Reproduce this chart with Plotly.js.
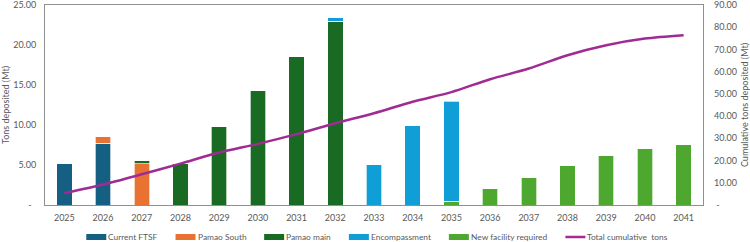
<!DOCTYPE html>
<html>
<head>
<meta charset="utf-8">
<script src="https://cdn.plot.ly/plotly-3.0.1.min.js"></script>
<style>
  html, body { margin: 0; padding: 0; background: #fff; }
  #chart { width: 750px; height: 242px; }
</style>
</head>
<body>
<div id="chart"></div>
<script>
// Deposition schedule by facility (Mt per year) and running total (Mt)
const years = ['2025','2026','2027','2028','2029','2030','2031','2032','2033',
               '2034','2035','2036','2037','2038','2039','2040','2041'];
const currentFTSF   = [5.25, 7.75, 0, 0, 0, 0, 0, 0, 0, 0, 0, 0, 0, 0, 0, 0, 0];
const pamaoSouth    = [0, 0.80, 5.15, 0, 0, 0, 0, 0, 0, 0, 0, 0, 0, 0, 0, 0, 0];
const pamaoMain     = [0, 0, 0.45, 5.15, 9.85, 14.30, 18.60, 23.00, 0, 0, 0, 0, 0, 0, 0, 0, 0];
const encompassment = [0, 0, 0, 0, 0, 0, 0, 0.42, 5.05, 9.90, 12.55, 0, 0, 0, 0, 0, 0];
const newFacility   = [0, 0, 0, 0, 0, 0, 0, 0, 0, 0, 0.45, 2.05, 3.45, 4.95, 6.20, 7.05, 7.55];
const cumulativeTons = [5.3, 9.2, 13.8, 18.6, 23.6, 27.5, 31.9, 36.8, 41.3, 46.5,
                        50.8, 56.6, 61.4, 67.4, 71.9, 74.9, 76.4];

const leftTickVals  = [0, 5, 10, 15, 20, 25];
const leftTickText  = ['-\u00a0\u00a0', '5.00', '10.00', '15.00', '20.00', '25.00'];
const rightTickVals = [0, 10, 20, 30, 40, 50, 60, 70, 80, 90];
const rightTickText = ['\u00a0-', '10.00', '20.00', '30.00', '40.00', '50.00',
                       '60.00', '70.00', '80.00', '90.00'];

const FONT_NAME = 'Lato';
const FONT = 'Lato, "Open Sans", sans-serif';
const FONT_SIZE = 9;
const LEGEND_FONT_SIZE = 8.4;
const GREY = '#595959';
const FRAME = '#8f8f8f';
const edge = { color: 'rgba(255,255,255,0.85)', width: 0.8 };

const W = 750, H = 242;
const M = { l: 45, r: 47, t: 5, b: 37 };
const plotW = W - M.l - M.r, plotH = H - M.t - M.b;

// Legend entries, in display order
const legendEntries = [
  { name: 'Current FTSF', color: '#156082', kind: 'box' },
  { name: 'Pamao South', color: '#E97132', kind: 'box' },
  { name: 'Pamao main', color: '#196B24', kind: 'box' },
  { name: 'Encompassment', color: '#0F9ED5', kind: 'box' },
  { name: 'New facility required', color: '#4EA72E', kind: 'box' },
  { name: 'Total cumulative  tons', color: '#A02B93', kind: 'line' }
];
const colorOf = {};
legendEntries.forEach(e => { colorOf[e.name] = e.color; });

function barTrace(name, values) {
  return {
    type: 'bar', name: name, x: years, y: values,
    marker: { color: colorOf[name], line: edge },
    showlegend: false, hoverinfo: 'x+y+name'
  };
}

// New facility is stacked beneath Encompassment (visible in 2035)
const traces = [
  barTrace('Current FTSF', currentFTSF),
  barTrace('Pamao South', pamaoSouth),
  barTrace('Pamao main', pamaoMain),
  barTrace('New facility required', newFacility),
  barTrace('Encompassment', encompassment),
  {
    type: 'scatter', mode: 'lines', name: 'Total cumulative  tons',
    x: years, y: cumulativeTons, yaxis: 'y2', showlegend: false,
    line: { color: colorOf['Total cumulative  tons'], width: 2.5, shape: 'spline', smoothing: 0.8 }
  }
];

// Pixel helpers for the legend row beneath the axis (paper coordinates)
const px2paperX = px => (px - M.l) / plotW;
const px2paperY = py => (H - M.b - py) / plotH;

function buildLegend(measure) {
  const swW = 20, swH = 6, txtGap = 2, itemGap = 18, cx = 377, cy = 237;
  const widths = legendEntries.map(e => measure(e.name));
  const total = widths.reduce((s, w) => s + swW + txtGap + w, 0) + itemGap * (legendEntries.length - 1);
  let x = cx - total / 2;
  const shapes = [], annotations = [];
  legendEntries.forEach((e, i) => {
    if (e.kind === 'box') {
      shapes.push({
        type: 'rect', xref: 'paper', yref: 'paper', layer: 'above',
        x0: px2paperX(x), x1: px2paperX(x + swW),
        y0: px2paperY(cy + swH / 2), y1: px2paperY(cy - swH / 2),
        fillcolor: e.color, line: { width: 0 }
      });
    } else {
      shapes.push({
        type: 'line', xref: 'paper', yref: 'paper', layer: 'above',
        x0: px2paperX(x), x1: px2paperX(x + swW),
        y0: px2paperY(cy), y1: px2paperY(cy),
        line: { color: e.color, width: 2.5 }
      });
    }
    annotations.push({
      xref: 'paper', yref: 'paper', showarrow: false,
      x: px2paperX(x + swW + txtGap - 1), y: px2paperY(cy),
      xanchor: 'left', yanchor: 'middle', borderpad: 0,
      text: e.name, font: { family: FONT, size: LEGEND_FONT_SIZE, color: GREY }
    });
    x += swW + txtGap + widths[i] + itemGap;
  });
  return { shapes, annotations };
}

function draw() {
  const ctx = document.createElement('canvas').getContext('2d');
  ctx.font = LEGEND_FONT_SIZE + 'px ' + FONT;
  const legend = buildLegend(t => ctx.measureText(t).width);

  const tickFont = { family: FONT, size: FONT_SIZE, color: GREY };
  const layout = {
    width: W, height: H,
    margin: { l: M.l, r: M.r, t: M.t, b: M.b, pad: 0 },
    paper_bgcolor: '#ffffff', plot_bgcolor: '#ffffff',
    font: { family: FONT, size: FONT_SIZE, color: GREY },
    barmode: 'stack', bargap: 0.6,
    showlegend: false,
    shapes: legend.shapes,
    annotations: legend.annotations,
    xaxis: {
      type: 'category', showgrid: false, zeroline: false,
      showline: true, linecolor: FRAME, linewidth: 1, mirror: true,
      ticks: '', tickfont: tickFont, ticklabelstandoff: 4
    },
    yaxis: {
      range: [0, 25], showgrid: false, zeroline: false,
      showline: true, linecolor: FRAME, linewidth: 1, mirror: true,
      ticks: '', tickvals: leftTickVals, ticktext: leftTickText,
      tickfont: tickFont, ticklabelstandoff: 6, ticklabeloverflow: 'allow',
      title: { text: 'Tons deposited (Mt)', font: tickFont, standoff: 6 }
    },
    yaxis2: {
      range: [0, 90], overlaying: 'y', side: 'right',
      showgrid: false, zeroline: false, showline: false,
      ticks: '', tickvals: rightTickVals, ticktext: rightTickText,
      tickfont: tickFont, ticklabelstandoff: 10, ticklabeloverflow: 'allow',
      title: { text: 'Cumulative tons deposited (Mt)', font: tickFont, standoff: 6 }
    }
  };

  Plotly.newPlot('chart', traces, layout, { staticPlot: true, displayModeBar: false });
}

if (document.fonts && document.fonts.load) {
  document.fonts.load(LEGEND_FONT_SIZE + 'px ' + FONT_NAME).then(draw, draw);
} else {
  draw();
}
</script>
</body>
</html>
